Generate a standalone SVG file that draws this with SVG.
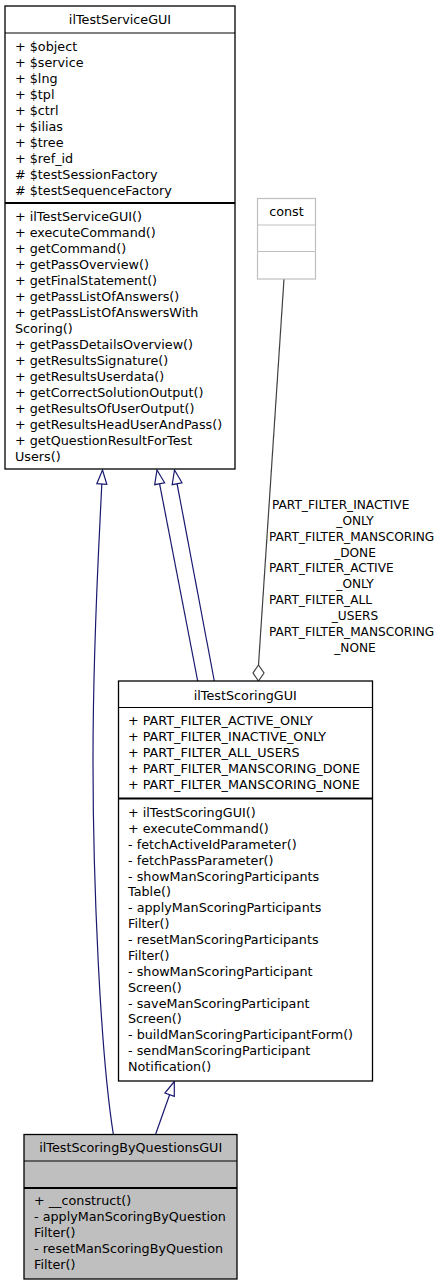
<svg xmlns="http://www.w3.org/2000/svg" width="447" height="1285" viewBox="0 0 447 1285">
<style>
text{font-family:"DejaVu Sans","Liberation Sans",sans-serif;font-size:12.75px;fill:#000}
.t{text-anchor:middle}
.lbl{font-size:12.15px}
.box{fill:#fff;stroke:#000;stroke-width:1.3}
.gray{fill:#bfbfbf}
.sep{stroke:#000;stroke-width:1}
.sep2{stroke:#000;stroke-width:2}
.cbox{fill:#fff;stroke:#bfbfbf;stroke-width:1.2}
.csep{stroke:#bfbfbf;stroke-width:1.2}
.inh{fill:none;stroke:#191970;stroke-width:1.2}
.ah{fill:#fff;stroke:#191970;stroke-width:1.2}
.use{fill:none;stroke:#404040;stroke-width:1.2}
.dia{fill:#fff;stroke:#404040;stroke-width:1.2}
</style>
<rect width="447" height="1285" fill="#fff"/>
<g id="connectors">
<path class="inh" d="M113.3,1134 C100,1050 93,880 93,760 C93,640 99,545 101.8,484"/>
<polygon class="ah" points="102.5,470 106.8,484.3 96.8,483.7"/>
<path class="inh" d="M197.7,681 L159.6,483.8"/>
<polygon class="ah" points="157,470 164.6,482.8 154.7,484.7"/>
<path class="inh" d="M214.3,681 L177.1,483.8"/>
<polygon class="ah" points="174.5,470 182,482.8 172.2,484.7"/>
<path class="inh" d="M155.7,1134 L169.6,1094.7"/>
<polygon class="ah" points="174.3,1081.5 174.3,1096.4 164.9,1093"/>
<path class="use" d="M284,279 L258.5,665"/>
<polygon class="dia" points="258.5,665 264,673 258.5,681 253,673"/>
<g id="edge-labels" class="lbl">
<text class="lbl" x="272" y="508.5">PART_FILTER_INACTIVE</text>
<text class="lbl t" x="355" y="524.5">_ONLY</text>
<text class="lbl" x="269" y="540.5">PART_FILTER_MANSCORING</text>
<text class="lbl t" x="355" y="556.5">_DONE</text>
<text class="lbl" x="269" y="571.5">PART_FILTER_ACTIVE</text>
<text class="lbl t" x="355" y="587.5">_ONLY</text>
<text class="lbl" x="269" y="603.5">PART_FILTER_ALL</text>
<text class="lbl t" x="355" y="619.5">_USERS</text>
<text class="lbl" x="269" y="635.5">PART_FILTER_MANSCORING</text>
<text class="lbl t" x="355" y="651.5">_NONE</text>
</g>
</g>
<g id="ilTestServiceGUI">
<rect class="box" x="5" y="6" width="230" height="463"/>
<line class="sep" x1="5" y1="33" x2="235" y2="33"/>
<line class="sep2" x1="5" y1="203" x2="235" y2="203"/>
<text class="t" x="120" y="23.5">ilTestServiceGUI</text>
<text x="15" y="50.5">+ $object</text>
<text x="15" y="66.5">+ $service</text>
<text x="15" y="82.5">+ $lng</text>
<text x="15" y="98.5">+ $tpl</text>
<text x="15" y="114.5">+ $ctrl</text>
<text x="15" y="130.5">+ $ilias</text>
<text x="15" y="146.5">+ $tree</text>
<text x="15" y="162.5">+ $ref_id</text>
<text x="15" y="178.5"># $testSessionFactory</text>
<text x="15" y="194.5"># $testSequenceFactory</text>
<text x="15" y="221.2">+ ilTestServiceGUI()</text>
<text x="15" y="237.2">+ executeCommand()</text>
<text x="15" y="253.2">+ getCommand()</text>
<text x="15" y="269.2">+ getPassOverview()</text>
<text x="15" y="285.2">+ getFinalStatement()</text>
<text x="15" y="301.2">+ getPassListOfAnswers()</text>
<text x="15" y="317.2">+ getPassListOfAnswersWith</text>
<text x="15" y="333.2">Scoring()</text>
<text x="15" y="349.2">+ getPassDetailsOverview()</text>
<text x="15" y="365.2">+ getResultsSignature()</text>
<text x="15" y="381.2">+ getResultsUserdata()</text>
<text x="15" y="397.2">+ getCorrectSolutionOutput()</text>
<text x="15" y="413.2">+ getResultsOfUserOutput()</text>
<text x="15" y="429.2">+ getResultsHeadUserAndPass()</text>
<text x="15" y="445.2">+ getQuestionResultForTest</text>
<text x="15" y="461.2">Users()</text>
</g>
<g id="const">
<rect class="cbox" x="257.5" y="198.5" width="58" height="80.5"/>
<line class="csep" x1="257.5" y1="225" x2="315.5" y2="225"/>
<line class="csep" x1="257.5" y1="251.5" x2="315.5" y2="251.5"/>
<text class="t" x="286.5" y="216">const</text>
</g>
<g id="ilTestScoringGUI">
<rect class="box" x="118.5" y="681" width="254" height="400"/>
<line class="sep" x1="118.5" y1="707.5" x2="372.5" y2="707.5"/>
<line class="sep2" x1="118.5" y1="798.5" x2="372.5" y2="798.5"/>
<text class="t" x="245.3" y="699.5">ilTestScoringGUI</text>
<text x="128" y="725">+ PART_FILTER_ACTIVE_ONLY</text>
<text x="128" y="741">+ PART_FILTER_INACTIVE_ONLY</text>
<text x="128" y="757">+ PART_FILTER_ALL_USERS</text>
<text x="128" y="773">+ PART_FILTER_MANSCORING_DONE</text>
<text x="128" y="789">+ PART_FILTER_MANSCORING_NONE</text>
<text x="128" y="817">+ ilTestScoringGUI()</text>
<text x="128" y="832.9">+ executeCommand()</text>
<text x="128" y="848.8">- fetchActiveIdParameter()</text>
<text x="128" y="864.6">- fetchPassParameter()</text>
<text x="128" y="880.5">- showManScoringParticipants</text>
<text x="128" y="896.4">Table()</text>
<text x="128" y="912.3">- applyManScoringParticipants</text>
<text x="128" y="928.2">Filter()</text>
<text x="128" y="944">- resetManScoringParticipants</text>
<text x="128" y="959.9">Filter()</text>
<text x="128" y="975.8">- showManScoringParticipant</text>
<text x="128" y="991.7">Screen()</text>
<text x="128" y="1007.6">- saveManScoringParticipant</text>
<text x="128" y="1023.4">Screen()</text>
<text x="128" y="1039.3">- buildManScoringParticipantForm()</text>
<text x="128" y="1055.2">- sendManScoringParticipant</text>
<text x="128" y="1071.1">Notification()</text>
</g>
<g id="ilTestScoringByQuestionsGUI">
<rect class="box gray" x="24" y="1134.5" width="213" height="144.5"/>
<line class="sep" x1="24" y1="1161" x2="237" y2="1161"/>
<line class="sep2" x1="24" y1="1188" x2="237" y2="1188"/>
<text class="t" x="130.7" y="1152.2">ilTestScoringByQuestionsGUI</text>
<text x="34" y="1205">+ __construct()</text>
<text x="34" y="1220.9">- applyManScoringByQuestion</text>
<text x="34" y="1236.8">Filter()</text>
<text x="34" y="1252.7">- resetManScoringByQuestion</text>
<text x="34" y="1268.6">Filter()</text>
</g>
</svg>
